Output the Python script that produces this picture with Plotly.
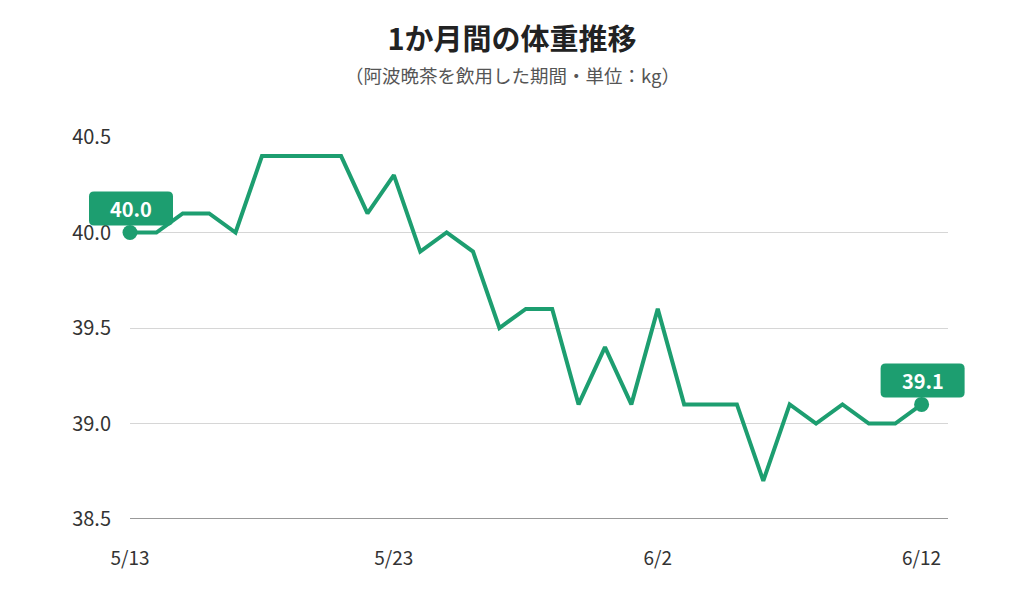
import plotly.graph_objects as go

dates = ["5/13","5/14","5/15","5/16","5/17","5/18","5/19","5/20","5/21","5/22",
         "5/23","5/24","5/25","5/26","5/27","5/28","5/29","5/30","5/31","6/1",
         "6/2","6/3","6/4","6/5","6/6","6/7","6/8","6/9","6/10","6/11","6/12"]
weights = [40.0,40.0,40.1,40.1,40.0,40.4,40.4,40.4,40.4,40.1,
           40.3,39.9,40.0,39.9,39.5,39.6,39.6,39.1,39.4,39.1,
           39.6,39.1,39.1,39.1,38.7,39.1,39.0,39.1,39.0,39.0,39.1]
x_tick_labels = ["5/13", "5/23", "6/2", "6/12"]
y_ticks = [38.5, 39.0, 39.5, 40.0, 40.5]

GREEN = "#1d9e70"
FONT = "Noto Sans CJK JP"
X_RANGE = [0, 31]
Y_RANGE = [38.5, 40.5]
idx = list(range(len(dates)))
tick_idx = [dates.index(t) for t in x_tick_labels]

fig = go.Figure()
fig.add_trace(go.Scatter(x=idx, y=weights, mode="lines",
                         line=dict(color=GREEN, width=4), hoverinfo="skip",
                         showlegend=False, cliponaxis=False))
fig.add_trace(go.Scatter(x=[idx[0], idx[-1]], y=[weights[0], weights[-1]], mode="markers",
                         marker=dict(color=GREEN, size=15), hoverinfo="skip",
                         showlegend=False, cliponaxis=False))


def rounded_rect(x0, y0, x1, y1, r):
    return (f"M{x0+r},{y0} L{x1-r},{y0} Q{x1},{y0} {x1},{y0+r} "
            f"L{x1},{y1-r} Q{x1},{y1} {x1-r},{y1} L{x0+r},{y1} "
            f"Q{x0},{y1} {x0},{y1-r} L{x0},{y0+r} Q{x0},{y0} {x0+r},{y0} Z")


for i in (0, len(weights) - 1):
    px = (idx[i] - X_RANGE[0]) / (X_RANGE[1] - X_RANGE[0])
    py = (weights[i] - Y_RANGE[0]) / (Y_RANGE[1] - Y_RANGE[0])
    fig.add_shape(type="path", xref="paper", yref="paper",
                  xsizemode="pixel", ysizemode="pixel",
                  xanchor=px, yanchor=py,
                  path=rounded_rect(-41, 7, 43, 41, 5),
                  fillcolor=GREEN, line=dict(width=0), layer="above")
    fig.add_annotation(x=idx[i], y=weights[i], text=f"<b>{weights[i]:.1f}</b>",
                       showarrow=False, yshift=24, xshift=1,
                       font=dict(family=FONT, size=20, color="white"))

fig.update_layout(
    width=1024, height=601,
    margin=dict(l=130, r=76, t=137, b=82),
    paper_bgcolor="white", plot_bgcolor="white",
    font=dict(family=FONT, color="#333333"),
    title=dict(text="<b>1か月間の体重推移</b>", x=0.5, xanchor="center",
               y=1 - 40/601, yanchor="middle",
               font=dict(family=FONT, size=29, color="#222222")),
    xaxis=dict(range=X_RANGE, tickvals=tick_idx, ticktext=x_tick_labels,
               showgrid=False, zeroline=False, showline=False,
               ticks="outside", ticklen=22, tickcolor="rgba(0,0,0,0)",
               tickfont=dict(family=FONT, size=19, color="#333333")),
    yaxis=dict(range=Y_RANGE, tickvals=y_ticks,
               ticktext=[f"{v:.1f}" for v in y_ticks],
               showgrid=True, gridcolor="#d6d6d6", gridwidth=1,
               zeroline=False, showline=False,
               ticks="outside", ticklen=14, tickcolor="rgba(0,0,0,0)",
               tickfont=dict(family=FONT, size=20, color="#333333")),
)
fig.add_annotation(xref="paper", yref="paper", x=(512 - 130) / 818,
                   y=1 + (137 - 75) / (601 - 137 - 82),
                   text="（阿波晩茶を飲用した期間・単位：kg）", showarrow=False,
                   xanchor="center", yanchor="middle",
                   font=dict(family=FONT, size=18.5, color="#555555"))
fig.add_shape(type="line", xref="paper", yref="y", x0=0, x1=1, y0=38.5, y1=38.5,
              line=dict(color="#999999", width=2), layer="below")

fig.write_html("out.html")
